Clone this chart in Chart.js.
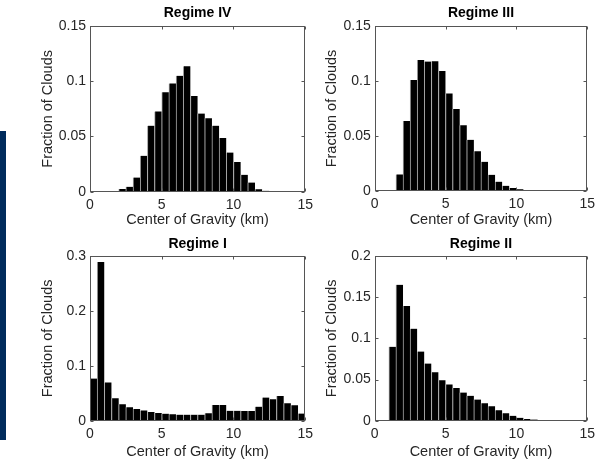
<!DOCTYPE html>
<html>
<head>
<meta charset="utf-8">
<script src="https://cdn.jsdelivr.net/npm/chart.js@4.4.0/dist/chart.umd.min.js"></script>
<style>
  body { margin: 0; background: #fff; width: 600px; height: 466px; position: relative; overflow: hidden; }
  canvas { position: absolute; }
  #strip { position: absolute; left: 0; top: 131px; width: 6px; height: 309px; background: #002b5c; }
</style>
</head>
<body>
<div id="strip"></div>
<canvas id="c4" width="318" height="233" style="left:0;top:0"></canvas>
<canvas id="c3" width="282" height="233" style="left:318px;top:0"></canvas>
<canvas id="c1" width="318" height="233" style="left:0;top:233px"></canvas>
<canvas id="c2" width="282" height="233" style="left:318px;top:233px"></canvas>
<script>
// bin centres, 0.5 km bins from 0 to 15 km
const binCenters = [0.25, 0.75, 1.25, 1.75, 2.25, 2.75, 3.25, 3.75, 4.25, 4.75,
  5.25, 5.75, 6.25, 6.75, 7.25, 7.75, 8.25, 8.75, 9.25, 9.75,
  10.25, 10.75, 11.25, 11.75, 12.25, 12.75, 13.25, 13.75, 14.25, 14.75];
const xTicks = [0, 5, 10, 15];

const regime4 = [0.0002, 0.0002, 0.0003, 0.0005, 0.0024, 0.0045, 0.0128, 0.0325, 0.0598, 0.0727,
  0.090, 0.098, 0.105, 0.1135, 0.0866, 0.0708, 0.0665, 0.0598, 0.0485, 0.0355,
  0.0268, 0.0153, 0.0083, 0.0023, 0.0008, 0.0003, 0.0002, 0.0002, 0.0002, 0.0002];
const regime3 = [0.0001, 0.0002, 0.0006, 0.0151, 0.0637, 0.1008, 0.1192, 0.1177, 0.118, 0.109,
  0.0887, 0.0746, 0.0598, 0.0465, 0.0362, 0.0266, 0.0148, 0.0085, 0.0048, 0.0027,
  0.0015, 0.0009, 0.0005, 0.0003, 0.0002, 0.0001, 0.0001, 0.0001, 0.0001, 0.0001];
const regime1 = [0.0768, 0.289, 0.0698, 0.041, 0.0298, 0.0243, 0.0213, 0.0188, 0.016, 0.0142,
  0.0128, 0.0118, 0.011, 0.011, 0.011, 0.011, 0.0134, 0.0285, 0.0285, 0.0182,
  0.0182, 0.0176, 0.0176, 0.0255, 0.0422, 0.0389, 0.045, 0.0318, 0.028, 0.013];
const regime2 = [0.0002, 0.0009, 0.0897, 0.165, 0.1394, 0.1118, 0.084, 0.0694, 0.0587, 0.0492,
  0.0441, 0.0397, 0.0342, 0.0302, 0.0257, 0.0212, 0.0176, 0.0128, 0.0089, 0.0059,
  0.0036, 0.0022, 0.0014, 0.0008, 0.0004, 0.0002, 0.0001, 0.0001, 0.0001, 0.0001];

const fontFam = 'Arial, "Liberation Sans", Helvetica, sans-serif';
const tickSize = 14, labelSize = 14.5, titleSize = 14;

// MATLAB-like box with inward ticks on all four sides
const boxPlugin = {
  id: 'boxPlugin',
  afterDatasetsDraw(chart) {
    const {ctx, chartArea: a, scales} = chart;
    const x = scales.x, y = scales.y;
    const L = Math.round(a.left) + 0.5, R = Math.round(a.right) - 0.5;
    const T = Math.round(a.top) + 0.5, B = Math.round(a.bottom) - 0.5;
    ctx.save();
    ctx.strokeStyle = '#555';
    ctx.lineWidth = 1;
    ctx.beginPath();
    x.ticks.forEach(t => {
      const px = Math.round(x.getPixelForValue(t.value)) + 0.5;
      ctx.moveTo(px, B); ctx.lineTo(px, B - 3);
      ctx.moveTo(px, T); ctx.lineTo(px, T + 3);
    });
    y.ticks.forEach(t => {
      const py = Math.round(y.getPixelForValue(t.value)) + 0.5;
      ctx.moveTo(L, py); ctx.lineTo(L + 3, py);
      ctx.moveTo(R, py); ctx.lineTo(R - 3, py);
    });
    ctx.stroke();
    ctx.strokeRect(L, T, R - L, B - T);
    ctx.restore();
  }
};

function makeChart(id, title, values, yMax, yStep, g) {
  return new Chart(document.getElementById(id), {
    type: 'bar',
    data: {
      datasets: [{
        data: binCenters.map((c, i) => ({x: c, y: values[i]})),
        backgroundColor: '#000',
        borderColor: '#a8a8a8',
        borderWidth: {left: 1, right: 0, top: 0, bottom: 0},
        borderSkipped: false,
        barPercentage: 1,
        categoryPercentage: 1
      }]
    },
    options: {
      responsive: false,
      animation: false,
      events: [],
      layout: {padding: {left: 0, right: g.padRight, top: 0, bottom: 0}},
      plugins: {
        legend: {display: false},
        tooltip: {enabled: false},
        title: {
          display: true, text: title, fullSize: false, color: '#000',
          font: {family: fontFam, size: titleSize, weight: 'bold', lineHeight: 1.2},
          padding: {top: g.titleTop, bottom: g.top - titleSize * 1.2 - g.titleTop}
        }
      },
      scales: {
        x: {
          type: 'linear', min: 0, max: 15, offset: false,
          afterBuildTicks: s => { s.ticks = xTicks.map(v => ({value: v})); },
          afterFit: s => { s.height = g.xAxisH; },
          grid: {display: false, drawTicks: false},
          border: {display: false},
          ticks: {color: '#262626', padding: 5, maxRotation: 0, font: {family: fontFam, size: tickSize}},
          title: {display: true, text: 'Center of Gravity (km)', color: '#262626',
            font: {family: fontFam, size: labelSize}, padding: {top: 0, bottom: g.xTitlePad}}
        },
        y: {
          min: 0, max: yMax,
          afterFit: s => { s.width = g.left; },
          grid: {display: false, drawTicks: false},
          border: {display: false},
          ticks: {stepSize: yStep, color: '#262626', padding: 4,
            font: {family: fontFam, size: tickSize},
            callback: v => String(+v.toFixed(3))},
          title: {display: true, text: 'Fraction of Clouds', color: '#262626',
            font: {family: fontFam, size: labelSize}, padding: {top: g.yTitlePad, bottom: 0}}
        }
      }
    },
    plugins: [boxPlugin]
  });
}

makeChart('c4', 'Regime IV', regime4, 0.15, 0.05,
  {left: 90, padRight: 12, top: 26, titleTop: 5, xAxisH: 41.3, xTitlePad: 4, yTitlePad: 39});
makeChart('c3', 'Regime III', regime3, 0.15, 0.05,
  {left: 56.7, padRight: 10, top: 26, titleTop: 5, xAxisH: 42, xTitlePad: 4, yTitlePad: 5});
makeChart('c1', 'Regime I', regime1, 0.3, 0.1,
  {left: 90, padRight: 12, top: 23, titleTop: 3, xAxisH: 45.3, xTitlePad: 5, yTitlePad: 39});
makeChart('c2', 'Regime II', regime2, 0.2, 0.05,
  {left: 56.7, padRight: 10, top: 23, titleTop: 3, xAxisH: 45.3, xTitlePad: 5, yTitlePad: 5});
</script>
</body>
</html>
